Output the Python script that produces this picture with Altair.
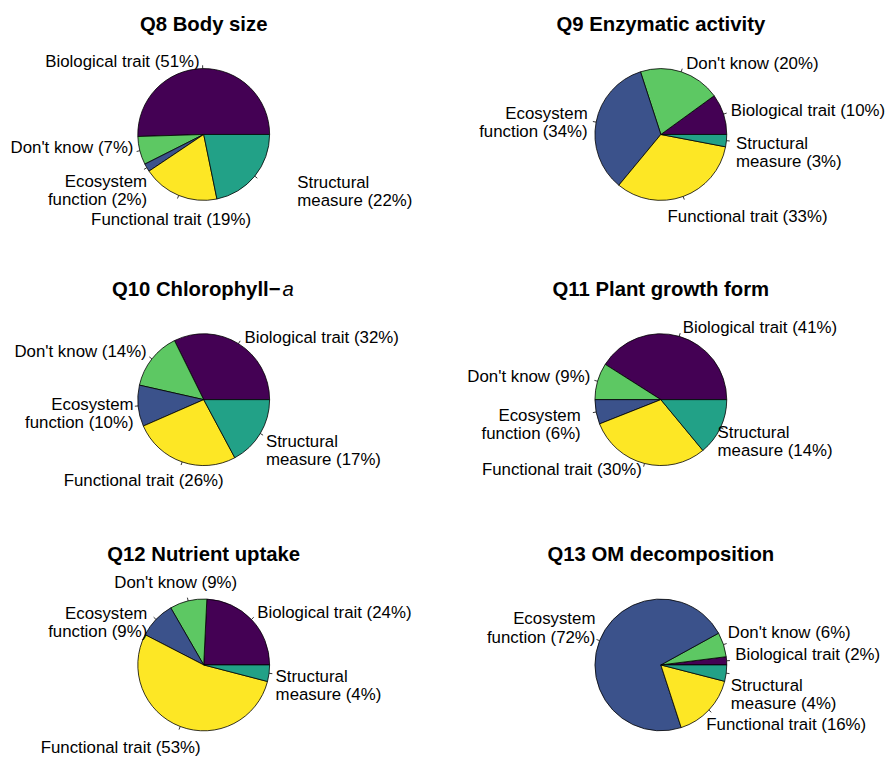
import math
import altair as alt
import pandas as pd

# ---------------- data ----------------
categories = ["Biological trait", "Don't know", "Ecosystem function",
              "Functional trait", "Structural measure"]
cat_colors = ["#440154", "#5DC863", "#3B528B", "#FDE725", "#22A187"]

titles = ["Q8 Body size", "Q9 Enzymatic activity", "Q10 Chlorophyll\u2212a",
          "Q11 Plant growth form", "Q12 Nutrient uptake", "Q13 OM decomposition"]

q8 = [51, 7, 2, 19, 22]
q9 = [10, 20, 34, 33, 3]
q10 = [32, 14, 10, 26, 17]
q11 = [41, 9, 6, 30, 14]
q12 = [24, 9, 9, 53, 4]
q13 = [2, 6, 72, 16, 4]
panel_values = [q8, q9, q10, q11, q12, q13]

# ---------------- layout ----------------
W, H = 885, 751
COL_X = [197.5, 658.8]
ROW_Y = [124.2, 391.8, 659.5]
R = 66.5
FONT = "Liberation Sans"
LABEL_SIZE = 17
TITLE_SIZE = 20.5

# label nudges (dx, dy) in px, per panel, in category order (label spreading)
label_nudge = [
    [(-3, 0), (0, -4.6), (6, 10.8), (75.5, 19), (37.8, 2.3)],
    [(1, -1), (3, -2), (-2, -7), (-18, 15), (3, 3)],
    [(2.6, 0), (0, -3), (2, -2), (44, 13.4), (0, 5)],
    [(1.7, -2), (-1, -2.5), (-9, 3), (-1, 0), (-9, 2.6)],
    [(1, -2), (51, -12), (-4, -1), (23, 16), (0, 3)],
    [(2, -5), (-2, -10), (2, -19), (-7.5, 11), (-2, 12.4)],
]

CW = {"E": .667, "c": .5, "o": .556, "s": .5, "y": .5, "t": .278, "e": .556,
      "m": .833, "f": .278, "u": .556, "n": .556, "i": .222, "S": .667,
      "r": .333, "a": .556, "l": .222, " ": .278, "(": .333, ")": .333,
      "%": .889}


def text_w(s):
    return sum(CW.get(ch, .556) for ch in s)


def make_label(cat, v, right_side):
    if cat in ("Ecosystem function", "Structural measure"):
        first, second = cat.split(" ", 1)
        second = f"{second} ({v}%)"
        pad = int(round((text_w(second) - text_w(first)) / 2 / 0.278))
        nb = "\u00a0" * max(pad, 0)
        first = (nb + first) if right_side else (first + nb)
        return first + "\n" + second
    return f"{cat} ({v}%)"


xs = alt.Scale(domain=[0, W], range=[0, W], nice=False, zero=False)
ys = alt.Scale(domain=[0, H], range=[0, H], nice=False, zero=False)
theta_scale = alt.Scale(domain=[0, 1], range=[2.5 * math.pi, 0.5 * math.pi])
color_scale = alt.Scale(domain=categories, range=cat_colors)

layers = []
for i, vals in enumerate(panel_values):
    cx = COL_X[i % 2]
    cy = ROW_Y[i // 2]
    total = sum(vals)
    # side of label decided from the slice's mid-angle (as pie() does)
    cum = 0
    labels = []
    for c, v in zip(categories, vals):
        mid = (cum + v / 2) / total
        cum += v
        labels.append(make_label(c, v, math.cos(2 * math.pi * mid) >= 0))
    df = pd.DataFrame({
        "cat": categories,
        "order": list(range(len(categories))),
        "val": vals,
        "label": labels,
        "dx": [n[0] for n in label_nudge[i]],
        "dy": [n[1] for n in label_nudge[i]],
    })
    base = alt.Chart(df).transform_joinaggregate(
        total="sum(val)"
    ).transform_window(
        cum="sum(val)", sort=[alt.SortField("order")], frame=[None, 0]
    ).transform_calculate(
        start="(datum.cum - datum.val) / datum.total",
        end="datum.cum / datum.total",
        ang="2 * PI * (datum.cum - datum.val / 2) / datum.total",
    ).transform_calculate(
        tx0=f"{cx} + {R} * cos(datum.ang)",
        ty0=f"{cy} - {R} * sin(datum.ang)",
        tx1=f"{cx} + {1.05 * R} * cos(datum.ang)",
        ty1=f"{cy} - {1.05 * R} * sin(datum.ang)",
        lx=f"{cx} + {1.1 * R} * cos(datum.ang) + datum.dx",
        ly=f"{cy} - {1.1 * R} * sin(datum.ang) + datum.dy",
    )

    arc = base.mark_arc(outerRadius=R, stroke="black", strokeWidth=0.8).encode(
        theta=alt.Theta("start:Q", scale=theta_scale),
        theta2="end:Q",
        x=alt.XDatum(cx, type="quantitative", scale=xs, axis=None),
        y=alt.YDatum(cy, type="quantitative", scale=ys, axis=None),
        color=alt.Color("cat:N", scale=color_scale, legend=None),
    )
    ticks = base.mark_rule(color="black", strokeWidth=0.8).encode(
        x=alt.X("tx0:Q", scale=xs, axis=None),
        y=alt.Y("ty0:Q", scale=ys, axis=None),
        x2="tx1:Q",
        y2="ty1:Q",
    )
    txt_kw = dict(baseline="middle", fontSize=LABEL_SIZE, font=FONT,
                  lineBreak="\n", lineHeight=18.4, color="black")
    lab_r = base.transform_filter("cos(datum.ang) >= 0").mark_text(
        align="left", **txt_kw).encode(
        x=alt.X("lx:Q", scale=xs, axis=None),
        y=alt.Y("ly:Q", scale=ys, axis=None),
        text="label:N",
    )
    lab_l = base.transform_filter("cos(datum.ang) < 0").mark_text(
        align="right", **txt_kw).encode(
        x=alt.X("lx:Q", scale=xs, axis=None),
        y=alt.Y("ly:Q", scale=ys, axis=None),
        text="label:N",
    )
    layers += [arc, ticks, lab_r, lab_l]

    # panel title
    ty = cy - 110.5
    t = titles[i]
    if t.endswith("\u2212a"):
        bold_part = t[:-1]
        tb = alt.Chart(pd.DataFrame({"t": [bold_part]})).mark_text(
            align="right", baseline="middle", fontSize=TITLE_SIZE, font=FONT,
            fontWeight="bold", color="black").encode(
            x=alt.XDatum(cx + 77.5, type="quantitative", scale=xs, axis=None),
            y=alt.YDatum(ty, type="quantitative", scale=ys, axis=None),
            text="t:N")
        ta = alt.Chart(pd.DataFrame({"t": ["a"]})).mark_text(
            align="left", baseline="middle", fontSize=TITLE_SIZE, font=FONT,
            fontStyle="italic", color="black").encode(
            x=alt.XDatum(cx + 79.5, type="quantitative", scale=xs, axis=None),
            y=alt.YDatum(ty, type="quantitative", scale=ys, axis=None),
            text="t:N")
        layers += [tb, ta]
    else:
        tt = alt.Chart(pd.DataFrame({"t": [t]})).mark_text(
            align="center", baseline="middle", fontSize=TITLE_SIZE, font=FONT,
            fontWeight="bold", color="black").encode(
            x=alt.XDatum(cx, type="quantitative", scale=xs, axis=None),
            y=alt.YDatum(ty, type="quantitative", scale=ys, axis=None),
            text="t:N")
        layers.append(tt)

chart = alt.layer(*layers).properties(
    width=W, height=H, padding=0,
    autosize=alt.AutoSizeParams(type="none"),
    background="white",
).configure_view(stroke=None)

chart.save("out.html", embed_options={"renderer": "svg", "actions": False})
